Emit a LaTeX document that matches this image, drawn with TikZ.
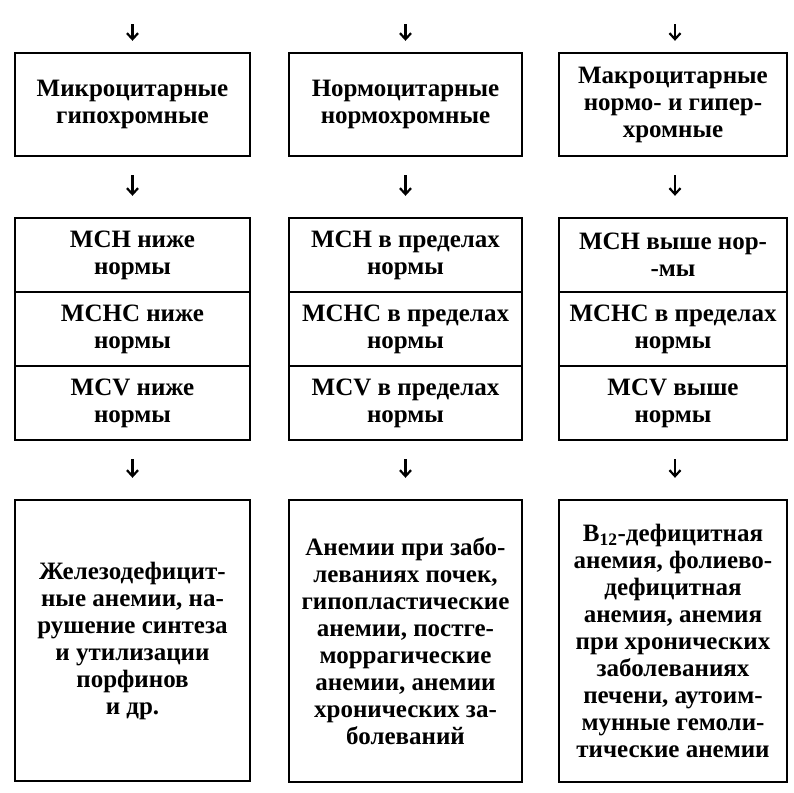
\documentclass[tikz,border=0pt]{standalone}
\usepackage{fontspec}
\setmainfont{Liberation Serif}
\usetikzlibrary{arrows.meta}
\begin{document}
\begin{tikzpicture}[x=1pt,y=-1pt,
    box/.style={draw,line width=2.4pt,align=center,inner sep=0pt,
      font=\fontsize{25}{27}\selectfont\bfseries},
    arr/.style={line width=2.2pt,-{Straight Barb[length=6pt,width=11pt,line width=2.2pt]},
      shorten <=18pt,shorten >=21pt}]
  \useasboundingbox (0,0) rectangle (793,793);
  % First row: type of anaemia
  \node[box,minimum width=235pt,minimum height=103pt] (mik) at (132.5,104.5)
    {Микроцитарные\\гипохромные};
  \node[box,minimum width=233pt,minimum height=103pt] (nor) at (405.5,104.5)
    {Нормоцитарные\\нормохромные};
  \node[box,minimum width=228pt,minimum height=103pt] (mak) at (673,104.5)
    {Макроцитарные\\нормо- и гипер-\\хромные};
  % Second row: indices, three cells per column
  \node[box,minimum width=235pt,minimum height=74pt] (mikA) at (132.5,255) {MCH ниже\\нормы};
  \node[box,minimum width=235pt,minimum height=74pt] (mikB) at (132.5,329) {MCHC ниже\\нормы};
  \node[box,minimum width=235pt,minimum height=74pt] (mikC) at (132.5,403) {MCV ниже\\нормы};
  \node[box,minimum width=233pt,minimum height=74pt] (norA) at (405.5,255) {MCH в пределах\\нормы};
  \node[box,minimum width=233pt,minimum height=74pt] (norB) at (405.5,329) {MCHC в пределах\\нормы};
  \node[box,minimum width=233pt,minimum height=74pt] (norC) at (405.5,403) {MCV в пределах\\нормы};
  \node[box,minimum width=228pt,minimum height=74pt] (makA) at (673,255) {MCH выше нор-\\-мы};
  \node[box,minimum width=228pt,minimum height=74pt] (makB) at (673,329) {MCHC в пределах\\нормы};
  \node[box,minimum width=228pt,minimum height=74pt] (makC) at (673,403) {MCV выше\\нормы};
  % Third row: diseases
  \node[box,minimum width=235pt,minimum height=281pt] (zhel) at (132.5,640.5)
    {Железодефицит-\\ные анемии, на-\\рушение синтеза\\и утилизации\\порфинов\\и др.};
  \node[box,minimum width=233pt,minimum height=282pt] (pochk) at (405.5,641)
    {Анемии при забо-\\леваниях почек,\\гипопластические\\анемии, постге-\\моррагические\\анемии, анемии\\хронических за-\\болеваний};
  \node[box,minimum width=228pt,minimum height=282pt] (vit) at (673,641)
    {B\textsubscript{12}-дефицитная\\анемия, фолиево-\\дефицитная\\анемия, анемия\\при хронических\\заболеваниях\\печени, аутоим-\\мунные гемоли-\\тические анемии};
  % Arrows
  \coordinate (top1) at (132.5,24);
  \coordinate (top2) at (405.5,24);
  \coordinate (top3) at (675,24);
  \draw[arr,shorten <=0pt,shorten >=11pt] (top1) -- (mik.north);
  \draw[arr,shorten <=0pt,shorten >=11pt] (top2) -- (nor.north);
  \draw[arr,shorten <=0pt,shorten >=11pt] (top3) -- (mak.north -| top3);
  \draw[arr] (mik) -- (mikA);
  \draw[arr] (nor) -- (norA);
  \draw[arr] (mak.south -| top3) -- (makA.north -| top3);
  \draw[arr] (mikC) -- (zhel);
  \draw[arr] (norC) -- (pochk);
  \draw[arr] (makC.south -| top3) -- (vit.north -| top3);
\end{tikzpicture}
\end{document}
